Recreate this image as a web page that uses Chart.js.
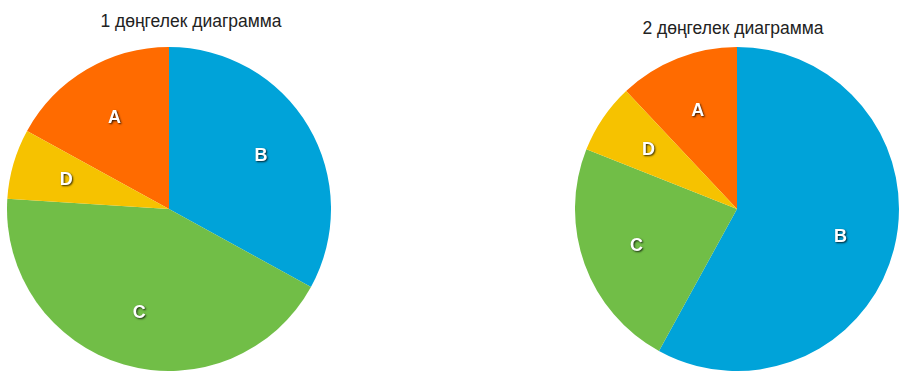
<!DOCTYPE html>
<html>
<head>
<meta charset="utf-8">
<script src="https://cdn.jsdelivr.net/npm/chart.js@4"></script>
<style>
  body { margin: 0; background: #fff; width: 901px; height: 374px; position: relative; overflow: hidden; font-family: "Liberation Sans", Arial, sans-serif; }
  .title { position: absolute; width: 300px; text-align: center; font-size: 17.5px; color: #222; line-height: 20px; }
  .box { position: absolute; width: 324px; height: 324px; }
</style>
</head>
<body>
<div class="title" style="left:41px; top:11px;">1 дөңгелек диаграмма</div>
<div class="title" style="left:583px; top:18px;">2 дөңгелек диаграмма</div>
<div class="box" style="left:7px; top:47px;"><canvas id="pie1"></canvas></div>
<div class="box" style="left:575px; top:47px;"><canvas id="pie2"></canvas></div>
<script>
// деректер
var categories = ['A', 'B', 'C', 'D'];
var values1 = [17, 33, 43, 7];
var values2 = [12, 58, 23, 7];
var colors = ['#FF6B00', '#00A3D9', '#71BE47', '#F6C200'];

// слайс үстіндегі жазулар
var sliceLabels = {
    id: 'sliceLabels',
    afterDatasetsDraw: function (chart) {
        var ctx = chart.ctx;
        var meta = chart.getDatasetMeta(0);
        ctx.save();
        ctx.font = 'bold 18px "Liberation Sans", Arial, sans-serif';
        ctx.textAlign = 'center';
        ctx.textBaseline = 'middle';
        ctx.fillStyle = '#fff';
        ctx.shadowColor = 'rgba(0,0,0,0.8)';
        ctx.shadowOffsetX = 1;
        ctx.shadowOffsetY = 1;
        ctx.shadowBlur = 2;
        meta.data.forEach(function (arc, i) {
            var mid = (arc.startAngle + arc.endAngle) / 2;
            var r = arc.outerRadius * 0.66;
            ctx.fillText(chart.data.labels[i], arc.x + Math.cos(mid) * r, arc.y + Math.sin(mid) * r + 1);
        });
        ctx.restore();
    }
};

function makePie(id, vals) {
    var total = vals.reduce(function (a, b) { return a + b; }, 0);
    return new Chart(document.getElementById(id), {
        type: 'pie',
        data: {
            labels: categories,
            datasets: [{ data: vals, backgroundColor: colors, borderWidth: 0, hoverOffset: 0 }]
        },
        options: {
            responsive: true,
            maintainAspectRatio: false,
            animation: false,
            rotation: -vals[0] / total * 360,
            layout: { padding: 0 },
            plugins: { legend: { display: false }, tooltip: { enabled: false } }
        },
        plugins: [sliceLabels]
    });
}

makePie('pie1', values1);
makePie('pie2', values2);
</script>
</body>
</html>
